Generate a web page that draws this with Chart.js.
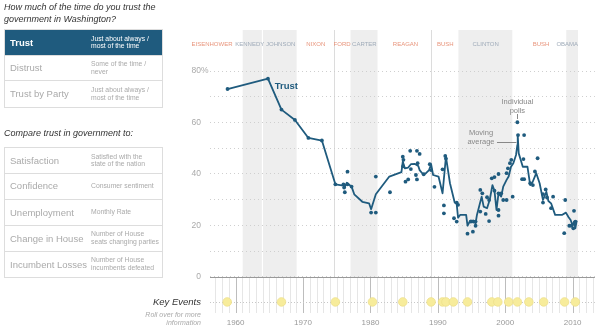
<!DOCTYPE html>
<html>
<head>
<meta charset="utf-8">
<script src="https://cdn.jsdelivr.net/npm/chart.js@4"></script>
<style>
body{margin:0;width:600px;height:334px;position:relative;overflow:hidden;background:#fff;font-family:"Liberation Sans",Arial,sans-serif}
#chart{position:absolute;left:0;top:0}
.q{position:absolute;left:4px;font-style:italic;font-size:9px;line-height:11.5px;color:#333;white-space:nowrap}
.box{position:absolute;left:4px;width:157px;border:1px solid #ddd;border-bottom:none}
.row{position:relative;border-bottom:1px solid #ddd;color:#aaa}
.row .l{position:absolute;left:5px;top:0;font-size:9.5px}
.row .r{position:absolute;left:86px;top:50%;transform:translateY(-50%);font-size:6.8px;line-height:7.8px}
.row.on{background:#1f5b7e;color:#fff}
.row.on .l{font-weight:bold}
.ke{position:absolute;right:399px;text-align:right;font-style:italic;white-space:nowrap}
</style>
</head>
<body>
<canvas id="chart" width="600" height="334"></canvas>

<div class="q" style="top:2px">How much of the time do you trust the<br>government in Washington?</div>
<div class="box" style="top:29px">
  <div class="row on" style="height:25px"><span class="l" style="line-height:25px">Trust</span><span class="r">Just about always /<br>most of the time</span></div>
  <div class="row" style="height:24px"><span class="l" style="line-height:24px">Distrust</span><span class="r">Some of the time /<br>never</span></div>
  <div class="row" style="height:26px"><span class="l" style="line-height:26px">Trust by Party</span><span class="r">Just about always /<br>most of the time</span></div>
</div>

<div class="q" style="top:128px">Compare trust in government to:</div>
<div class="box" style="top:147px">
  <div class="row" style="height:25px"><span class="l" style="line-height:25px">Satisfaction</span><span class="r">Satisfied with the<br>state of the nation</span></div>
  <div class="row" style="height:24.5px"><span class="l" style="line-height:24.5px">Confidence</span><span class="r">Consumer sentiment</span></div>
  <div class="row" style="height:25px"><span class="l" style="line-height:25px">Unemployment</span><span class="r">Monthly Rate</span></div>
  <div class="row" style="height:25px"><span class="l" style="line-height:25px">Change in House</span><span class="r">Number of House<br>seats changing parties</span></div>
  <div class="row" style="height:25px"><span class="l" style="line-height:25px">Incumbent Losses</span><span class="r">Number of House<br>incumbents defeated</span></div>
</div>

<div class="ke" style="top:296px;font-size:9.5px;color:#333">Key Events</div>
<div class="ke" style="top:311px;font-size:7px;line-height:8px;color:#aaa">Roll over for more<br>information</div>

<script>
// moving average of trust (% just about always / most of the time)
const avgYears = [1958.8, 1964.8, 1966.8, 1968.8, 1970.8, 1972.8, 1974.8, 1976.0, 1976.2, 1976.5,
  1977.2, 1977.6, 1978.8, 1979.8, 1980.1, 1980.8, 1982.8, 1984.6, 1984.8, 1985.1,
  1985.6, 1986.0, 1986.6, 1987.1, 1987.3, 1987.8, 1988.2, 1988.7, 1989.0, 1989.3,
  1990.1, 1990.7, 1991.2, 1991.8, 1992.5, 1992.8, 1993.0, 1993.3, 1994.2, 1994.4,
  1994.8, 1995.3, 1995.6, 1995.8, 1996.5, 1996.8, 1997.3, 1997.7, 1998.1, 1998.4,
  1998.7, 1999.0, 1999.4, 1999.7, 2000.2, 2000.5, 2000.85, 2001.2, 2001.6, 2001.8,
  2001.85, 2002.0, 2002.3, 2002.6, 2003.3, 2003.7, 2004.0, 2004.6, 2005.1, 2005.6,
  2006.1, 2006.4, 2006.8, 2007.4, 2008.4, 2009.0, 2009.4, 2009.7, 2010.0, 2010.2,
  2010.4, 2010.6];
const avgValues = [73, 77, 65, 61, 54, 53, 36, 35.5, 35, 36.6,
  35.1, 32.1, 29.2, 28.6, 26.3, 32.1, 39, 40.7, 44.8, 42.2,
  42.5, 43.8, 43.9, 43.1, 41.5, 39.9, 40.2, 41.5, 43.8, 39.6,
  39, 32.5, 46.7, 36.4, 28.9, 28.3, 23, 24.1, 24.1, 19.9,
  21.9, 21.9, 20.8, 24.1, 31.2, 27.3, 26.7, 30, 35.7, 33.5,
  26, 32.5, 31.2, 35.1, 37.7, 39, 42.8, 44.2, 47.4, 51.3,
  55.1, 48, 45.4, 42.8, 42.8, 35.7, 36.5, 40.3, 36.4, 29.9,
  33.1, 29.5, 28.6, 24.1, 24.1, 25, 23.2, 22.1, 19.9, 21.5,
  18.9, 21.9];

// individual polls
const pollYears = [1958.8, 1964.8, 1966.8, 1968.8, 1970.8, 1972.8, 1974.8,
  1976.0, 1976.1, 1976.2, 1976.6, 1976.6, 1977.2, 1980.1, 1980.8, 1980.8, 1982.9,
  1984.8, 1984.9, 1984.85, 1985.2, 1985.6, 1985.9, 1986.0, 1986.9, 1987.3, 1986.75, 1987.0, 1986.9, 1987.9,
  1988.8, 1989.0, 1989.5, 1990.7, 1990.9, 1990.9, 1991.1, 1991.2,
  1992.8, 1993.0, 1992.4, 1992.8, 1994.4, 1995.2, 1994.9, 1995.3, 1995.6, 1995.6,
  1996.3, 1996.6, 1996.3, 1997.1, 1997.6, 1997.3, 1997.6, 1998.0, 1998.4, 1998.4,
  1999.0, 1999.0, 1999.0, 1999.0, 1999.4, 1999.7, 2000.2, 2000.2, 2000.4, 2000.7,
  2000.9, 2001.1, 2001.8, 2001.9, 2002.8, 2002.7, 2002.5, 2002.8, 2003.7, 2004.1,
  2004.8, 2004.4, 2005.6, 2005.6, 2006.0, 2006.2, 2007.1, 2006.8, 2008.9, 2008.75,
  2009.5, 2009.8, 2010.1, 2010.2, 2010.4];
const pollValues = [73, 77, 65, 61, 54, 53, 36,
  36, 34.7, 32.9, 40.9, 36, 35.1, 25, 25, 39, 32.9,
  46.7, 45.5, 43, 37, 37.9, 49, 41.9, 49, 47.8, 39.6, 44.2, 37.9, 39.9,
  43.8, 41.5, 35, 41.8, 27.8, 24.7, 47, 46,
  28.9, 28, 22.8, 21.5, 16.8, 17.6, 21.5, 21.5, 19.9, 21.5,
  33.8, 32.5, 25.4, 24.5, 21.7, 31, 29.9, 38.3, 38.8, 33.5,
  40, 32.5, 26, 23.8, 32.5, 29.9, 29.9, 40.3, 42.2, 44.2,
  45.5, 31.2, 60.1, 55.1, 55.1, 45.8, 38, 38, 36.4, 35.7,
  46.1, 41, 32.2, 28.9, 34, 30.9, 31.2, 26.7, 29.9, 17,
  19.9, 19.9, 18.9, 25.7, 21.5];

// key events row
const eventYears = [1958.75, 1966.8, 1974.8, 1980.3, 1984.8, 1989.0, 1990.7, 1991.2, 1992.3,
  1994.4, 1998.0, 1998.9, 2000.5, 2001.8, 2003.5, 2005.7, 2008.8, 2010.4];
const eventLevel = -9.7;

// presidents
const presNames = ['EISENHOWER', 'KENNEDY', 'JOHNSON', 'NIXON', 'FORD', 'CARTER', 'REAGAN', 'BUSH', 'CLINTON', 'BUSH', 'OBAMA'];
const presParty = ['R', 'D', 'D', 'R', 'R', 'D', 'R', 'R', 'D', 'R', 'D'];
const presStart = [1953.05, 1961.05, 1963.9, 1969.05, 1974.6, 1977.05, 1981.05, 1989.05, 1993.05, 2001.05, 2009.05];
const presLabelAt = [1956.5, 1962.1, 1966.7, 1971.9, 1975.8, 1979.1, 1985.2, 1991.1, 1997.1, 2005.3, 2009.2];
const dataEnd = 2010.8;

const yearTicks = [1960, 1970, 1980, 1990, 2000, 2010];
const pctTicks = [0, 10, 20, 30, 40, 50, 60, 70, 80];

const BLUE = '#1f5b7e';

const backdrop = {
  id: 'backdrop',
  beforeDraw(chart) {
    const {ctx, scales: {x, y}} = chart;
    const y0 = y.getPixelForValue(0);
    const top = 30;
    ctx.save();
    // democratic terms shaded
    presStart.forEach((s, i) => {
      const e = i < presStart.length - 1 ? presStart[i + 1] : dataEnd;
      if (presParty[i] !== 'D') return;
      const x1 = x.getPixelForValue(Math.max(s, x.min));
      const x2 = x.getPixelForValue(e);
      ctx.fillStyle = '#eeeeee';
      ctx.fillRect(x1, top, x2 - x1, y0 - top);
    });
    // same-party hand-offs
    presStart.forEach((s, i) => {
      if (i === 0 || presParty[i] !== presParty[i - 1]) return;
      const px = Math.round(x.getPixelForValue(s)) + 0.5;
      ctx.strokeStyle = presParty[i] === 'D' ? '#ffffff' : '#dcdcdc';
      ctx.lineWidth = 1;
      ctx.beginPath();
      ctx.moveTo(px, top);
      ctx.lineTo(px, y0);
      ctx.stroke();
    });
    // president names
    ctx.font = '6px "Liberation Sans", Arial, sans-serif';
    ctx.textAlign = 'center';
    ctx.textBaseline = 'middle';
    presNames.forEach((n, i) => {
      ctx.fillStyle = presParty[i] === 'R' ? '#e8957c' : '#9fabb9';
      ctx.fillText(n, x.getPixelForValue(presLabelAt[i]), 44);
    });
    ctx.restore();
  },
  beforeDatasetsDraw(chart) {
    const {ctx, scales: {x, y}, chartArea} = chart;
    const y0 = Math.round(y.getPixelForValue(0)) + 0.5;
    ctx.save();
    // year ticks under the axis
    for (let yr = Math.ceil(x.min); yr <= x.max; yr++) {
      const px = Math.round(x.getPixelForValue(yr)) + 0.5;
      ctx.strokeStyle = yr % 10 === 0 ? '#bdbdbd' : '#e6e6e6';
      ctx.beginPath();
      ctx.moveTo(px, y0);
      ctx.lineTo(px, chartArea.bottom);
      ctx.stroke();
    }
    // key events track
    const ey = Math.round(y.getPixelForValue(eventLevel)) + 0.5;
    ctx.strokeStyle = '#c8c8c8';
    ctx.setLineDash([1, 2]);
    ctx.beginPath();
    ctx.moveTo(chartArea.left, ey);
    ctx.lineTo(chartArea.right, ey);
    ctx.stroke();
    ctx.setLineDash([]);
    // zero axis
    ctx.strokeStyle = '#999';
    ctx.beginPath();
    ctx.moveTo(chartArea.left, y0);
    ctx.lineTo(chartArea.right, y0);
    ctx.stroke();
    // % after top label
    const p80 = y.getPixelForValue(80);
    ctx.font = '8.5px "Liberation Sans", Arial, sans-serif';
    ctx.fillStyle = '#aaa';
    ctx.textAlign = 'left';
    ctx.textBaseline = 'middle';
    ctx.fillText('%', chartArea.left - 9, p80);
    // annotations
    ctx.font = 'bold 9.5px "Liberation Sans", Arial, sans-serif';
    ctx.fillStyle = BLUE;
    ctx.fillText('Trust', x.getPixelForValue(1965.8), y.getPixelForValue(74.2));
    ctx.font = '7.5px "Liberation Sans", Arial, sans-serif';
    ctx.fillStyle = '#888';
    ctx.textAlign = 'center';
    const ix = x.getPixelForValue(2001.8);
    ctx.fillText('Individual', ix, 102);
    ctx.fillText('polls', ix, 111);
    const mx = x.getPixelForValue(1996.4);
    ctx.fillText('Moving', mx, 133);
    ctx.fillText('average', mx, 142);
    ctx.strokeStyle = '#888';
    ctx.beginPath();
    ctx.moveTo(Math.round(ix) + 0.5, 114);
    ctx.lineTo(Math.round(ix) + 0.5, 119);
    ctx.moveTo(mx + 16, 142.5);
    ctx.lineTo(ix - 1, 142.5);
    ctx.stroke();
    ctx.restore();
  }
};

new Chart(document.getElementById('chart'), {
  type: 'scatter',
  data: {
    datasets: [
      {
        data: eventYears.map(v => ({x: v, y: eventLevel})),
        pointRadius: 4.3,
        backgroundColor: '#f7ec9b',
        borderColor: '#ede08c',
        borderWidth: 0.8
      },
      {
        data: pollYears.map((v, i) => ({x: v, y: pollValues[i]})),
        pointRadius: 1.9,
        pointBorderWidth: 0,
        backgroundColor: BLUE
      },
      {
        data: avgYears.map((v, i) => ({x: v, y: avgValues[i]})),
        showLine: true,
        pointRadius: 0,
        borderColor: BLUE,
        borderWidth: 1.8,
        borderJoinStyle: 'round'
      }
    ]
  },
  options: {
    responsive: false,
    animation: false,
    layout: {padding: {top: 71, right: 5, left: 0, bottom: 0}},
    plugins: {legend: {display: false}, tooltip: {enabled: false}},
    scales: {
      x: {
        type: 'linear',
        min: 1956.2,
        max: 2013.3,
        afterBuildTicks: s => { s.ticks = yearTicks.map(v => ({value: v})); },
        afterFit: s => { s.height = 21; },
        grid: {display: false, drawTicks: false},
        border: {display: false},
        ticks: {
          padding: 5,
          color: '#999',
          font: {size: 8, family: '"Liberation Sans", Arial, sans-serif'},
          callback: v => String(v)
        }
      },
      y: {
        min: -14,
        max: 80,
        afterBuildTicks: s => { s.ticks = pctTicks.map(v => ({value: v})); },
        afterFit: s => { s.width = 210; },
        grid: {color: '#cfcfcf', lineWidth: 1, drawTicks: false},
        border: {display: false, dash: [1, 3]},
        ticks: {
          padding: 9,
          color: '#aaa',
          font: {size: 8.5, family: '"Liberation Sans", Arial, sans-serif'},
          callback: v => (v % 20 === 0 ? String(v) : '')
        }
      }
    }
  },
  plugins: [backdrop]
});
</script>
</body>
</html>
